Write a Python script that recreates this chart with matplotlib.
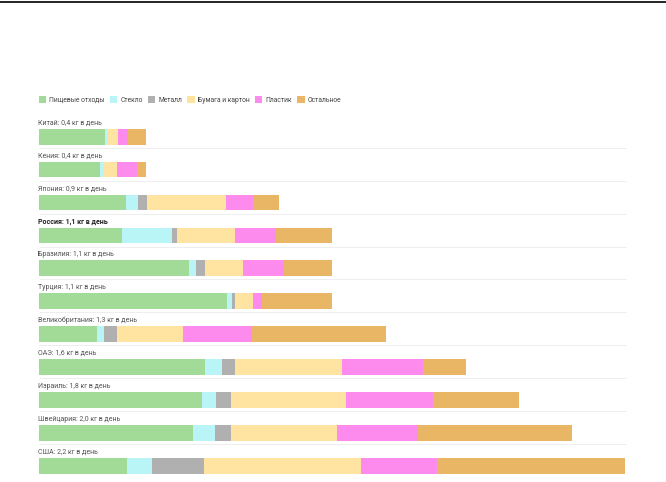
import matplotlib
matplotlib.use("Agg")
import matplotlib.pyplot as plt
from matplotlib.lines import Line2D
from matplotlib.patches import Patch

plt.rcParams['font.family'] = ['Roboto', 'DejaVu Sans']

# countries, top to bottom
countries = ['Китай', 'Кения', 'Япония', 'Россия', 'Бразилия', 'Турция',
             'Великобритания', 'ОАЭ', 'Израиль', 'Швейцария', 'США']
totals = ['0,4', '0,4', '0,9', '1,1', '1,1', '1,1', '1,3', '1,6', '1,8', '2,0', '2,2']

# kg per person per day, by waste type
food = [0.247, 0.227, 0.327, 0.312, 0.564, 0.704, 0.216, 0.621, 0.612, 0.579, 0.328]
glass = [0.008, 0.014, 0.043, 0.187, 0.026, 0.020, 0.029, 0.064, 0.053, 0.079, 0.096]
metal = [0.000, 0.000, 0.036, 0.020, 0.034, 0.011, 0.046, 0.049, 0.055, 0.062, 0.196]
paper = [0.041, 0.050, 0.296, 0.215, 0.142, 0.066, 0.247, 0.400, 0.431, 0.398, 0.587]
plastic = [0.039, 0.075, 0.099, 0.156, 0.152, 0.034, 0.262, 0.307, 0.324, 0.302, 0.284]
other = [0.065, 0.034, 0.099, 0.210, 0.180, 0.263, 0.501, 0.160, 0.325, 0.578, 0.707]

series = [food, glass, metal, paper, plastic, other]
names = ['Пищевые отходы', 'Стекло', 'Металл', 'Бумага и картон', 'Пластик', 'Остальное']
colors = ['#a2db97', '#b9f5f7', '#b0b0b0', '#fee3a1', '#fd8bee', '#e8b664']

W, H = 666, 482
fig = plt.figure(figsize=(W / 100, H / 100), dpi=100)

row = 32.9          # pixels per row
top = 136.7         # centre of first bar, pixels from top
ax = fig.add_axes([39 / W, 0, (626 - 39) / W, 1])
ax.set_xlim(0, 2.2)
ax.set_ylim((H - top) / row, -top / row)
ax.axis('off')

n = len(countries)
ys = list(range(n))
left = [0.0] * n
for vals, c in zip(series, colors):
    ax.barh(ys, vals, left=left, height=0.477, color=c, linewidth=0)
    left = [l + v for l, v in zip(left, vals)]

for i in range(n):
    bold = countries[i] == 'Россия'
    ax.text(-0.002, i - 0.41, f'{countries[i]}: {totals[i]} кг в день',
            fontsize=5.0, color='#222222' if bold else '#555555',
            va='center', ha='left', fontweight='bold' if bold else 'normal')
    if i < n - 1:
        ax.plot([0, 2.2], [i + 0.34, i + 0.34], color='#eeeeee', lw=0.7,
                solid_capstyle='butt', clip_on=False)

handles = [Patch(facecolor=c, edgecolor='none') for c in colors]
fig.legend(handles, names, loc='center left', bbox_to_anchor=(38.5 / W, 1 - 100 / H),
           ncol=6, frameon=False, fontsize=4.9, handlelength=1.1, handleheight=1.1,
           handletextpad=0.45, columnspacing=0.75, borderaxespad=0, borderpad=0,
           labelcolor='#444444')

# thin rule along the top edge
fig.add_artist(Line2D([0, 1], [1 - 1.5 / H, 1 - 1.5 / H], color='black', lw=1.2,
                      transform=fig.transFigure))

fig.savefig('out.png', dpi=100)
